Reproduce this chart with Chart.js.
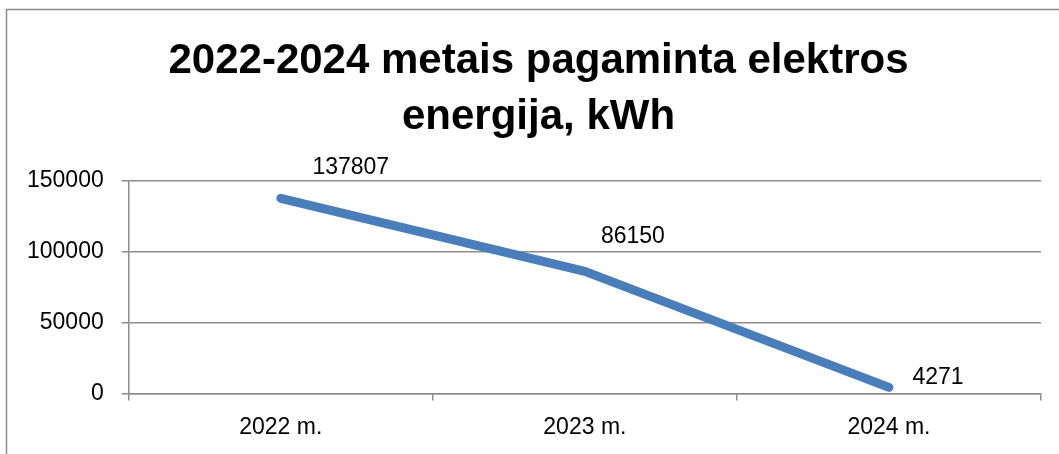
<!DOCTYPE html>
<html>
<head>
<meta charset="utf-8">
<script src="https://cdn.jsdelivr.net/npm/chart.js@4/dist/chart.umd.min.js"></script>
<style>
  html, body { margin: 0; padding: 0; background: #ffffff; }
  #wrap { position: relative; width: 1059px; height: 454px; }
</style>
</head>
<body>
<div id="wrap"><canvas id="c" width="1059" height="454"></canvas></div>
<script>
// ---- data ----
const titleLines = ["2022-2024 metais pagaminta elektros", "energija, kWh"];
const categories = ["2022 m.", "2023 m.", "2024 m."];
const values = [137807, 86150, 4271];
const yTicks = [0, 50000, 100000, 150000];

// ---- style ----
const FONT = "'Liberation Sans', Arial, sans-serif";
const GRID = "#8c8c8c";
const LINE = "#4a7ebb";
const labelOffsets = [[70, -31], [48, -35], [49, -10]];
const TITLE_SIZE = 42, TITLE_LH = 56, TITLE_PAD_TOP = 33, TITLE_CX = 538.5;

const frame = {
  id: "frame",
  beforeDraw(chart) {
    const ctx = chart.ctx;
    ctx.save();
    ctx.fillStyle = "#ffffff";
    ctx.fillRect(0, 0, chart.width, chart.height);
    ctx.strokeStyle = "#8a8a8a";
    ctx.lineWidth = 1.5;
    ctx.beginPath();
    ctx.moveTo(6.5, chart.height);
    ctx.lineTo(6.5, 9.5);
    ctx.lineTo(chart.width, 9.5);
    ctx.stroke();
    ctx.restore();
  },
  afterDraw(chart) {
    const ctx = chart.ctx;
    const tb = chart.titleBlock;
    ctx.save();
    ctx.font = "bold " + TITLE_SIZE + "px " + FONT;
    ctx.fillStyle = "#000000";
    ctx.textAlign = "center";
    ctx.textBaseline = "middle";
    titleLines.forEach((t, i) => {
      ctx.fillText(t, TITLE_CX, tb.top + TITLE_PAD_TOP + TITLE_LH / 2 + i * TITLE_LH);
    });
    ctx.restore();
  }
};

const dataLabels = {
  id: "dataLabels",
  afterDatasetsDraw(chart) {
    const ctx = chart.ctx;
    const meta = chart.getDatasetMeta(0);
    ctx.save();
    ctx.font = "23px " + FONT;
    ctx.fillStyle = "#000000";
    ctx.textAlign = "center";
    ctx.textBaseline = "middle";
    meta.data.forEach((pt, i) => {
      const off = labelOffsets[i];
      ctx.fillText(String(values[i]), pt.x + off[0], pt.y + off[1]);
    });
    ctx.restore();
  }
};

new Chart(document.getElementById("c"), {
  type: "line",
  data: {
    labels: categories,
    datasets: [{
      data: values,
      borderColor: LINE,
      borderWidth: 9,
      borderCapStyle: "round",
      borderJoinStyle: "round",
      pointRadius: 0,
      pointHoverRadius: 0,
      tension: 0,
      fill: false
    }]
  },
  options: {
    responsive: false,
    animation: false,
    events: [],
    layout: { padding: { top: 0, left: 9, right: 18, bottom: 0 } },
    plugins: {
      legend: { display: false },
      tooltip: { enabled: false },
      title: {
        display: true,
        text: titleLines,
        color: "rgba(0,0,0,0)",
        font: { family: FONT, size: TITLE_SIZE, weight: "bold", lineHeight: TITLE_LH / TITLE_SIZE },
        padding: { top: TITLE_PAD_TOP, bottom: 36 }
      }
    },
    scales: {
      x: {
        offset: true,
        grid: {
          offset: true,
          drawOnChartArea: false,
          drawTicks: true,
          tickLength: 7,
          color: GRID,
          lineWidth: 1.5
        },
        border: { display: true, color: GRID, width: 1.5 },
        ticks: {
          color: "#000000",
          font: { family: FONT, size: 23 },
          padding: 13,
          maxRotation: 0
        }
      },
      y: {
        min: 0,
        max: 150000,
        afterBuildTicks(axis) { axis.ticks = yTicks.map(v => ({ value: v })); },
        grid: {
          drawTicks: true,
          tickLength: 7,
          color: GRID,
          lineWidth: 1.5
        },
        border: { display: true, color: GRID, width: 1.5 },
        ticks: {
          color: "#000000",
          font: { family: FONT, size: 23 },
          padding: 18,
          callback: v => String(v)
        }
      }
    }
  },
  plugins: [frame, dataLabels]
});
</script>
</body>
</html>
